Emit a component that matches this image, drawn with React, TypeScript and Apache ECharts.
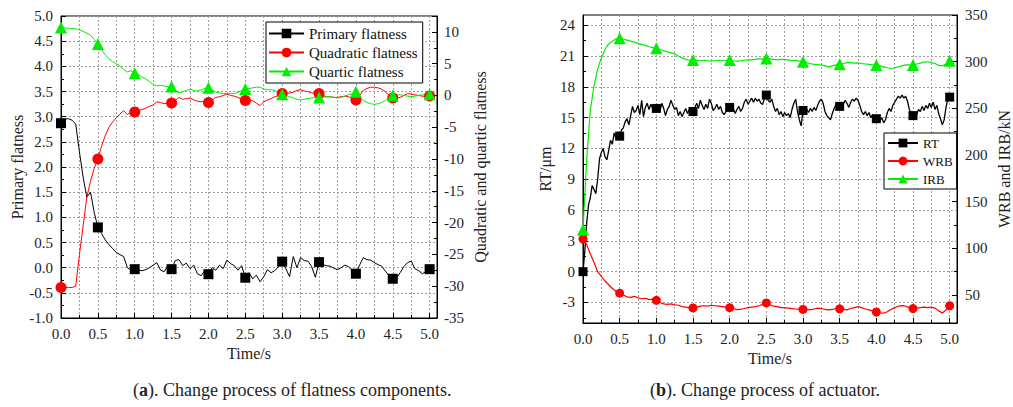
import React, { useEffect, useRef } from 'react';
import * as echarts from 'echarts';

// ---------- Data (a): flatness components, sampled every 0.05 s ----------
const STEP_A = 0.05;
const PRIMARY = [
  2.87, 2.95, 2.96, 2.93, 2.85, 2.30, 1.80, 1.40, 1.50, 1.10,
  0.80, 0.68, 0.55, 0.46, 0.38, 0.30, 0.26, 0.22, 0.00, -0.05,
  -0.03, -0.05, -0.06, -0.04, 0.00, 0.05, 0.10, -0.05, -0.08, 0.04,
  -0.03, 0.14, 0.16, 0.04, 0.09, -0.02, 0.05, -0.12, -0.16, -0.06,
  -0.13, 0.00, -0.05, 0.05, -0.02, 0.15, 0.08, 0.04, -0.05, 0.04,
  -0.20, -0.10, -0.22, -0.15, -0.28, -0.18, -0.04, -0.10, -0.06, 0.02,
  0.12, -0.02, -0.18, 0.22, 0.00, 0.20, 0.14, 0.13, 0.02, -0.19,
  0.11, 0.06, 0.04, 0.03, -0.01, -0.04, 0.00, 0.05, 0.02, -0.06,
  -0.12, 0.05, 0.20, 0.16, 0.15, 0.10, 0.06, 0.03, -0.07, -0.16,
  -0.22, -0.21, -0.10, 0.02, 0.10, 0.13, -0.02, -0.06, -0.12, -0.08,
  -0.03,
];
const QUADRATIC = [
  -30.2, -30.2, -30.2, -30.2, -30.0, -25.0, -20.5, -16.0, -13.5, -11.5,
  -10.0, -8.0, -6.3, -5.0, -4.2, -3.5, -2.9, -2.4, -3.0, -2.6,
  -2.6, -2.4, -2.2, -2.0, -1.7, -1.5, -1.0, -1.1, -1.3, -1.2,
  -1.2, -0.8, -0.3, -0.6, -0.5, -0.4, -0.7, -0.9, -1.0, -0.9,
  -1.1, -0.7, -0.3, -0.2, 0.0, 0.2, 0.0, -0.1, -0.3, -0.6,
  -0.8, -0.9, -0.8, -1.2, -1.6, -1.0, -0.7, -0.5, -0.2, 0.0,
  0.3, 0.3, 0.4, 0.5, 0.8, 0.9, 0.7, 0.6, 0.4, 0.3,
  0.3, 0.0, -0.2, -0.2, -0.3, -0.3, -0.2, -0.1, -0.2, -0.4,
  -0.7, 0.0, 0.8, 1.1, 1.3, 1.3, 1.2, 1.0, 0.6, 0.0,
  -0.4, -0.4, -0.3, 0.0, 0.3, 0.2, 0.1, 0.0, -0.1, -0.2,
  -0.1,
];
const QUARTIC = [
  10.7, 10.6, 10.6, 10.5, 10.5, 10.3, 10.1, 9.8, 9.5, 8.8,
  8.1, 7.2, 6.4, 5.8, 5.3, 5.0, 4.6, 4.1, 3.7, 3.9,
  3.5, 3.3, 2.9, 2.6, 2.2, 1.7, 1.5, 1.6, 1.5, 1.4,
  1.4, 0.9, 0.4, 0.6, 0.8, 1.0, 0.8, 0.7, 0.9, 1.1,
  1.2, 0.9, 0.5, 0.4, 0.3, 0.3, 0.3, 0.3, 0.5, 0.8,
  1.0, 1.1, 1.2, 1.3, 1.3, 1.0, 0.9, 0.9, 0.8, 0.5,
  0.2, 0.0, -0.2, -0.4, -0.6, -0.7, -0.6, -0.5, -0.4, -0.3,
  -0.3, -0.3, -0.2, -0.2, -0.3, -0.4, -0.3, -0.1, 0.1, 0.3,
  0.6, -0.2, -0.8, -1.1, -1.3, -1.4, -1.3, -1.1, -0.8, -0.3,
  0.0, 0.1, 0.1, 0.0, -0.1, -0.2, -0.1, 0.0, 0.1, 0.1,
  0.2,
];

// ---------- Data (b): actuator ----------
const STEP_RT = 0.025;
const RT = [
  0.0, 2.0, 4.7, 6.5, 7.2, 8.4, 8.0, 7.6, 9.0, 11.0,
  11.6, 12.0, 11.2, 10.9, 11.8, 12.8, 12.4, 13.5, 13.0, 13.6,
  13.2, 13.8, 14.0, 14.6, 14.9, 14.3, 15.2, 16.1, 15.5, 15.7,
  16.2, 15.3, 16.7, 15.1, 16.0, 16.4, 15.8, 16.3, 15.9, 16.2,
  15.9, 16.3, 15.7, 16.4, 15.9, 15.2, 15.8, 16.1, 16.7, 16.2,
  15.8, 16.0, 15.2, 15.6, 15.1, 15.5, 15.9, 15.4, 15.8, 15.3,
  15.6, 16.0, 16.4, 15.9, 16.7, 16.2, 15.8, 16.3, 15.9, 16.8,
  16.4, 15.7, 15.9, 16.3, 15.8, 16.1, 15.5, 15.3, 15.6, 16.2,
  16.0, 15.6, 15.9, 15.4, 15.8, 16.1, 15.6, 15.9, 16.5, 16.8,
  16.3, 16.6, 16.9, 16.5, 16.9, 16.6, 16.8, 16.4, 16.3, 16.9,
  17.2, 16.7, 16.5, 16.8, 16.1, 15.6, 15.9, 15.3, 15.6, 15.1,
  15.5, 15.2, 15.4, 15.0, 15.8, 16.4, 16.8, 15.6, 14.8, 14.2,
  15.7, 15.4, 15.8, 15.5, 15.9, 15.6, 16.0, 15.7, 16.2, 16.6,
  16.8, 16.4, 15.6, 15.2, 15.0, 14.8, 15.4, 15.9, 16.3, 16.0,
  16.1, 16.5, 16.3, 16.7, 16.4, 16.0, 16.5, 16.8, 16.6, 16.9,
  16.7, 16.2, 15.6, 15.3, 15.6, 15.2, 15.5, 15.0, 15.3, 14.9,
  14.9, 15.2, 14.7, 15.0, 14.5, 14.8, 15.5, 15.9, 15.6, 16.2,
  16.5, 16.8, 17.1, 16.9, 17.2, 16.9, 17.1, 16.6, 15.8, 15.4,
  15.2, 15.5, 15.3, 15.8, 15.6, 16.1, 15.7, 16.2, 15.9, 16.4,
  16.0, 16.5, 15.8, 16.2, 15.4, 14.9, 14.3, 14.8, 16.0, 16.8,
  17.0,
];
const STEP_B = 0.05;
const WRB = [
  110, 104, 94, 85, 75, 70, 65, 61, 57, 54,
  52, 50, 48, 47.5, 48.5, 47, 46, 46.5, 45, 45.5,
  44.3, 42, 40.5, 40, 40.5, 39.5, 39, 37.5, 37, 36.5,
  36.1, 37, 38, 38.5, 38, 39, 38.5, 38, 37.5, 37,
  36.4, 35.5, 34.3, 34.5, 35.5, 36.5, 37, 37.5, 38.5, 40,
  41.5, 39.5, 38, 37.5, 36.5, 36.5, 36, 35.5, 35, 34.5,
  34.5, 34.5, 34, 35, 36, 35.5, 34.5, 34, 34.5, 35.5,
  35.2, 34.5, 34, 35.5, 36.5, 37.5, 36.5, 35, 34, 33,
  31.8, 31, 30.5, 32, 34.5, 36.5, 38, 38.6, 38, 36.5,
  35.5, 36, 36.5, 37, 36.5, 37, 36, 33, 30.7, 34,
  38.5,
];
const IRB = [
  120, 195, 248, 274, 292, 304, 313, 319, 322, 324.5,
  325, 324, 323, 322, 321, 319.6, 318.5, 317.5, 316, 315,
  314.3, 313, 312, 310.5, 309.5, 308.5, 306, 304, 302.5, 301.5,
  301.7, 301.5, 301, 301.5, 301, 300.5, 301, 301.5, 301, 301.5,
  301.7, 301, 300.5, 301, 301.5, 302, 302, 302.5, 303, 303,
  303.5, 303, 302.5, 302, 302.5, 302.5, 302, 301, 301.5, 300.5,
  299.9, 299, 298, 297, 296.5, 296.5, 295.5, 294.5, 295.5, 296.5,
  297.3, 298, 299, 299, 298.5, 298.7, 298, 297.5, 297, 296.5,
  296.3, 295.5, 294.5, 293.5, 292.7, 293.5, 294.5, 295.5, 296.5, 296.5,
  296.3, 297.5, 298.5, 299.5, 299.9, 299, 298, 296, 295.5, 297.5,
  301,
];

// ---------- Axis tick values ----------
const RT_TICKS = [-3, 0, 3, 6, 9, 12, 15, 18, 21, 24];
const RT_MINOR = [-4.5, -1.5, 1.5, 4.5, 7.5, 10.5, 13.5, 16.5, 19.5, 22.5];
const KN_TICKS = [50, 100, 150, 200, 250, 300, 350];
const KN_MINOR = [75, 125, 175, 225, 275, 325];

const FONT = 'Liberation Serif';
const MARK_EVERY = 0.5;

function buildData(values: number[], step: number, symbol: string, size: number) {
  return values.map((v, i) => {
    const t = Math.round(i * step * 1000) / 1000;
    const r = t / MARK_EVERY;
    const isMark = Math.abs(r - Math.round(r)) < 1e-6;
    return isMark
      ? { value: [t, v], symbol, symbolSize: size }
      : { value: [t, v], symbol: 'none', symbolSize: 0 };
  });
}

const splitDash = () => ({ show: true, lineStyle: { color: '#a0a0a0', type: [2, 2] as any, width: 1 } });
const axisLine = () => ({ show: true, onZero: false, lineStyle: { color: '#000', width: 1 } });
const labelStyle = () => ({ fontFamily: FONT, fontSize: 15, color: '#222' });
const nameStyle = () => ({ fontFamily: FONT, fontSize: 16, color: '#222' });

function xAxes(gridIndex: number, nameGap: number) {
  return [
    {
      type: 'value', gridIndex, min: 0, max: 5.1, interval: 0.25, position: 'bottom',
      axisLine: axisLine(), axisTick: { show: true, inside: true, length: 3, lineStyle: { color: '#000' } },
      axisLabel: { show: false }, splitLine: splitDash(),
    },
    {
      type: 'value', gridIndex, min: 0, max: 5.1, interval: 0.5, position: 'bottom',
      axisLine: { show: false, onZero: false }, axisTick: { show: true, inside: true, length: 5, lineStyle: { color: '#000' } },
      axisLabel: { ...labelStyle(), margin: 8, showMaxLabel: false, formatter: (v: number) => v.toFixed(1) },
      splitLine: { show: false },
      name: 'Time/s', nameLocation: 'middle', nameGap, nameTextStyle: nameStyle(),
    },
  ];
}

export default function App() {
  const ref = useRef<HTMLDivElement>(null);
  useEffect(() => {
    if (!ref.current) return;
    const chart = echarts.init(ref.current, undefined, { renderer: 'svg' });
    const option: any = {
      animation: false,
      backgroundColor: '#fff',
      grid: [
        { left: 61, top: 16, width: 376, height: 302, show: true, borderColor: '#000', borderWidth: 1 },
        { left: 583, top: 15, width: 379, height: 308, show: true, borderColor: '#000', borderWidth: 1 },
      ],
      xAxis: [...xAxes(0, 25), ...xAxes(1, 21)],
      yAxis: [
        {
          type: 'value', gridIndex: 0, position: 'left', min: -1, max: 5, interval: 0.5,
          axisLine: axisLine(), axisTick: { inside: true, length: 5, lineStyle: { color: '#000' } },
          minorTick: { show: true, splitNumber: 2, length: 3, lineStyle: { color: '#000' } },
          axisLabel: { ...labelStyle(), margin: 8, formatter: (v: number) => v.toFixed(1) },
          splitLine: splitDash(),
          name: 'Primary flatness', nameLocation: 'middle', nameGap: 36, nameRotate: 90, nameTextStyle: nameStyle(),
        },
        {
          type: 'value', gridIndex: 0, position: 'right', min: -35, max: 12.5, interval: 5,
          axisLine: axisLine(), axisTick: { inside: true, length: 5, lineStyle: { color: '#000' } },
          minorTick: { show: true, splitNumber: 2, length: 3, lineStyle: { color: '#000' } },
          axisLabel: { ...labelStyle(), margin: 7, showMaxLabel: false },
          splitLine: { show: false },
          name: 'Quadratic and quartic flatness', nameLocation: 'middle', nameGap: 35, nameRotate: 90, nameTextStyle: nameStyle(),
        },
        {
          type: 'value', gridIndex: 1, position: 'left', min: -5, max: 25,
          axisLine: axisLine(), axisTick: { inside: true, length: 5, customValues: RT_TICKS, lineStyle: { color: '#000' } },
          axisLabel: { ...labelStyle(), margin: 8, customValues: RT_TICKS },
          splitLine: splitDash(),
          name: 'RT/μm', nameLocation: 'middle', nameGap: 30, nameRotate: 90, nameTextStyle: nameStyle(),
        },
        {
          type: 'value', gridIndex: 1, position: 'right', min: 20, max: 350,
          axisLine: axisLine(), axisTick: { inside: true, length: 5, customValues: KN_TICKS, lineStyle: { color: '#000' } },
          axisLabel: { ...labelStyle(), margin: 8, customValues: KN_TICKS },
          splitLine: { show: false },
          name: 'WRB and IRB/kN', nameLocation: 'middle', nameGap: 39, nameRotate: 90, nameTextStyle: nameStyle(),
        },
        {
          type: 'value', gridIndex: 1, position: 'left', min: -5, max: 25,
          axisLine: { show: false, onZero: false }, axisTick: { inside: true, length: 3, customValues: RT_MINOR, lineStyle: { color: '#000' } },
          axisLabel: { show: false, customValues: RT_MINOR }, splitLine: { show: false },
        },
        {
          type: 'value', gridIndex: 1, position: 'right', min: 20, max: 350,
          axisLine: { show: false, onZero: false }, axisTick: { inside: true, length: 3, customValues: KN_MINOR, lineStyle: { color: '#000' } },
          axisLabel: { show: false, customValues: KN_MINOR }, splitLine: { show: false },
        },
      ],
      legend: [
        {
          data: ['Primary flatness', 'Quadratic flatness', 'Quartic flatness'],
          orient: 'vertical', left: 266, top: 22, itemWidth: 35, itemHeight: 12, itemGap: 4,
          padding: [4, 5, 4, 2], borderColor: '#000', borderWidth: 1, borderRadius: 0, backgroundColor: '#fff',
          textStyle: { fontFamily: FONT, fontSize: 15, color: '#111', lineHeight: 15 },
          selectedMode: false,
        },
        {
          data: ['RT', 'WRB', 'IRB'],
          orient: 'vertical', left: 884, top: 133, itemWidth: 30, itemHeight: 11, itemGap: 4,
          padding: [3, 4, 3, 3], borderColor: '#000', borderWidth: 1, borderRadius: 0, backgroundColor: '#fff',
          textStyle: { fontFamily: FONT, fontSize: 13, color: '#111', lineHeight: 14 },
          selectedMode: false,
        },
      ],
      series: [
        {
          name: 'Primary flatness', type: 'line', xAxisIndex: 0, yAxisIndex: 0,
          symbol: 'rect', showAllSymbol: true, data: buildData(PRIMARY, STEP_A, 'rect', 10),
          lineStyle: { color: '#000', width: 1 }, itemStyle: { color: '#000' },
        },
        {
          name: 'Quadratic flatness', type: 'line', xAxisIndex: 0, yAxisIndex: 1,
          symbol: 'circle', showAllSymbol: true, data: buildData(QUADRATIC, STEP_A, 'circle', 11),
          lineStyle: { color: '#ff0000', width: 1 }, itemStyle: { color: '#ff0000' },
        },
        {
          name: 'Quartic flatness', type: 'line', xAxisIndex: 0, yAxisIndex: 1,
          symbol: 'triangle', showAllSymbol: true, data: buildData(QUARTIC, STEP_A, 'triangle', 12),
          lineStyle: { color: '#00ee00', width: 1 }, itemStyle: { color: '#00ee00' },
        },
        {
          name: 'RT', type: 'line', xAxisIndex: 2, yAxisIndex: 2,
          symbol: 'rect', showAllSymbol: true, data: buildData(RT, STEP_RT, 'rect', 9),
          lineStyle: { color: '#000', width: 1.3 }, itemStyle: { color: '#000' },
        },
        {
          name: 'WRB', type: 'line', xAxisIndex: 2, yAxisIndex: 3,
          symbol: 'circle', showAllSymbol: true, data: buildData(WRB, STEP_B, 'circle', 9),
          lineStyle: { color: '#ff0000', width: 1.2 }, itemStyle: { color: '#ff0000' },
        },
        {
          name: 'IRB', type: 'line', xAxisIndex: 2, yAxisIndex: 3,
          symbol: 'triangle', showAllSymbol: true, data: buildData(IRB, STEP_B, 'triangle', 12),
          lineStyle: { color: '#00ee00', width: 1.2 }, itemStyle: { color: '#00ee00' },
        },
      ],
      graphic: [
        {
          type: 'text', left: 133, top: 381,
          style: {
            text: '({b|a}). Change process of flatness components.',
            fontFamily: FONT, fontSize: 18, fill: '#222',
            rich: { b: { fontWeight: 'bold', fontFamily: FONT, fontSize: 18, fill: '#222' } },
          },
        },
        {
          type: 'text', left: 650, top: 381,
          style: {
            text: '({b|b}). Change process of actuator.',
            fontFamily: FONT, fontSize: 18, fill: '#222',
            rich: { b: { fontWeight: 'bold', fontFamily: FONT, fontSize: 18, fill: '#222' } },
          },
        },
      ],
    };
    chart.setOption(option);
    return () => chart.dispose();
  }, []);
  return (
    <div
      ref={ref}
      style={{ position: 'fixed', left: 0, top: 0, width: 1013, height: 407, background: '#fff' }}
    />
  );
}
